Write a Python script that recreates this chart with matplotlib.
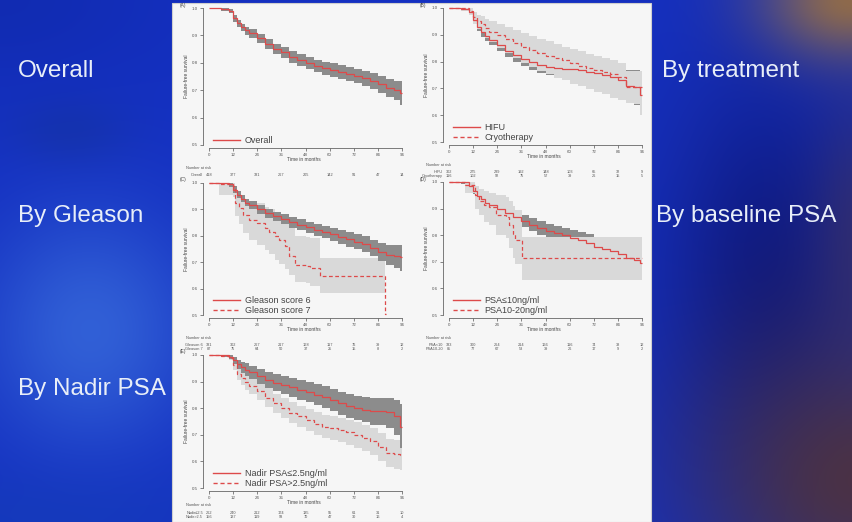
#!/usr/bin/env python3
"""
Slide with five Kaplan-Meier panels of failure-free survival
(overall, by treatment, by Gleason, by baseline PSA, by nadir PSA).
"""

import numpy as np
import matplotlib
matplotlib.use("Agg")
import matplotlib.pyplot as plt
from matplotlib.lines import Line2D
from matplotlib.patches import Rectangle

plt.rcParams["font.family"] = ["Liberation Sans", "DejaVu Sans"]

W, H, DPI = 852, 522, 100

# ---------------------------------------------------------------------------
# Data
# ---------------------------------------------------------------------------
# step start times (months), last entry closes the final step
grid = [0, 6, 10, 12, 14, 16, 18, 20, 24, 28, 32, 36, 40, 44, 48, 52, 56, 60,
        64, 68, 72, 76, 80, 84, 88, 92, 95, 96]
xticks = [0, 12, 24, 36, 48, 60, 72, 84, 96]
yticks = [0.5, 0.6, 0.7, 0.8, 0.9, 1.0]

# (A) overall
overall_s = [1.000, 0.995, 0.990, 0.962, 0.945, 0.930, 0.918, 0.908, 0.890, 0.870,
             0.852, 0.838, 0.822, 0.810, 0.798, 0.788, 0.781, 0.774, 0.766, 0.759,
             0.752, 0.743, 0.733, 0.722, 0.708, 0.700, 0.690]
overall_lo = [1.000, 0.990, 0.983, 0.950, 0.932, 0.916, 0.903, 0.892, 0.873, 0.852,
              0.833, 0.818, 0.801, 0.788, 0.776, 0.765, 0.757, 0.750, 0.741, 0.733,
              0.725, 0.715, 0.704, 0.691, 0.675, 0.664, 0.645]
overall_hi = [1.000, 0.999, 0.996, 0.973, 0.957, 0.943, 0.932, 0.923, 0.906, 0.887,
              0.870, 0.857, 0.842, 0.831, 0.820, 0.810, 0.804, 0.798, 0.791, 0.785,
              0.779, 0.771, 0.762, 0.752, 0.740, 0.734, 0.732]

# (B) by treatment
hifu_s = [1.000, 0.995, 0.985, 0.955, 0.930, 0.910, 0.895, 0.880, 0.860, 0.840,
          0.825, 0.810, 0.797, 0.787, 0.779, 0.776, 0.774, 0.771, 0.768, 0.762,
          0.756, 0.750, 0.744, 0.730, 0.708, 0.704, 0.675]
hifu_lo = [1.000, 0.988, 0.975, 0.940, 0.913, 0.892, 0.876, 0.860, 0.838, 0.816,
           0.800, 0.784, 0.770, 0.758, 0.749, 0.745, 0.742, 0.738, 0.733, 0.725,
           0.716, 0.708, 0.698, 0.680, 0.650, 0.640, 0.608]
hifu_hi = [1.000, 1.000, 0.994, 0.968, 0.946, 0.928, 0.914, 0.900, 0.882, 0.863,
           0.850, 0.836, 0.824, 0.815, 0.808, 0.806, 0.805, 0.803, 0.802, 0.800,
           0.796, 0.792, 0.790, 0.782, 0.770, 0.770, 0.745]
cryo_s = [1.000, 0.998, 0.990, 0.965, 0.950, 0.940, 0.925, 0.912, 0.900, 0.886,
          0.870, 0.855, 0.843, 0.832, 0.822, 0.812, 0.805, 0.795, 0.785, 0.776,
          0.769, 0.762, 0.752, 0.742, 0.706, 0.706, 0.706]
cryo_lo = [1.000, 0.990, 0.975, 0.940, 0.920, 0.905, 0.888, 0.872, 0.852, 0.832,
           0.812, 0.795, 0.780, 0.766, 0.752, 0.740, 0.730, 0.718, 0.708, 0.698,
           0.688, 0.678, 0.665, 0.655, 0.645, 0.642, 0.600]
cryo_hi = [1.000, 1.000, 1.000, 0.985, 0.975, 0.970, 0.960, 0.950, 0.940, 0.930,
           0.918, 0.905, 0.895, 0.886, 0.876, 0.866, 0.856, 0.846, 0.838, 0.830,
           0.822, 0.814, 0.806, 0.795, 0.765, 0.765, 0.765]

# (C) by Gleason score
gl6_s = [1.000, 0.998, 0.994, 0.975, 0.955, 0.940, 0.925, 0.915, 0.900, 0.886,
         0.873, 0.862, 0.851, 0.841, 0.832, 0.823, 0.814, 0.805, 0.795, 0.786,
         0.778, 0.769, 0.753, 0.740, 0.728, 0.722, 0.719]
gl6_lo = [1.000, 0.994, 0.986, 0.963, 0.942, 0.926, 0.911, 0.900, 0.884, 0.869,
          0.855, 0.843, 0.831, 0.820, 0.810, 0.800, 0.790, 0.780, 0.769, 0.759,
          0.750, 0.739, 0.722, 0.706, 0.690, 0.680, 0.668]
gl6_hi = [1.000, 1.000, 1.000, 0.987, 0.968, 0.954, 0.939, 0.930, 0.916, 0.903,
          0.891, 0.881, 0.871, 0.862, 0.854, 0.846, 0.838, 0.830, 0.821, 0.813,
          0.806, 0.799, 0.784, 0.774, 0.766, 0.764, 0.766]
gl7_t = [0, 5, 12, 13, 15, 17, 20, 24, 28, 30, 33, 35, 38, 40, 43, 48, 50, 55, 87.5, 88]
gl7_s = [1.000, 0.995, 0.990, 0.924, 0.905, 0.880, 0.861, 0.848, 0.830, 0.816,
         0.800, 0.785, 0.760, 0.722, 0.690, 0.684, 0.677, 0.646, 0.506]
gl7_lo = [1.000, 0.955, 0.945, 0.875, 0.845, 0.810, 0.785, 0.765, 0.745, 0.730,
          0.710, 0.695, 0.675, 0.650, 0.625, 0.620, 0.610, 0.582, 0.506]
gl7_hi = [1.000, 1.000, 1.000, 0.965, 0.955, 0.940, 0.930, 0.924, 0.910, 0.900,
          0.885, 0.875, 0.860, 0.830, 0.800, 0.797, 0.790, 0.715, 0.506]

# (D) by baseline PSA
psa10_s = [1.000, 0.998, 0.985, 0.965, 0.948, 0.935, 0.922, 0.912, 0.898, 0.882,
           0.868, 0.853, 0.840, 0.827, 0.816, 0.807, 0.799, 0.790, 0.782, 0.772,
           0.757, 0.749, 0.740, 0.728, 0.713, 0.705, 0.694]
psa10_lo = [1.000, 0.994, 0.976, 0.953, 0.934, 0.920, 0.905, 0.894, 0.878, 0.861,
            0.846, 0.830, 0.816, 0.802, 0.790, 0.780, 0.771, 0.761, 0.752, 0.740,
            0.722, 0.712, 0.700, 0.685, 0.665, 0.655, 0.644]
psa10_hi = [1.000, 1.000, 0.994, 0.977, 0.962, 0.950, 0.939, 0.930, 0.918, 0.903,
            0.890, 0.876, 0.864, 0.852, 0.842, 0.834, 0.827, 0.819, 0.812, 0.804,
            0.792, 0.786, 0.780, 0.771, 0.760, 0.755, 0.744]
psa20_t = [0, 8, 13, 15, 17.5, 20, 23.5, 28.5, 30, 31.8, 33, 36.5, 96]
psa20_s = [1.000, 0.990, 0.950, 0.930, 0.9125, 0.906, 0.875, 0.869, 0.8375, 0.806,
           0.781, 0.7125]
psa20_lo = [1.000, 0.960, 0.900, 0.875, 0.850, 0.840, 0.800, 0.790, 0.750, 0.715,
            0.690, 0.631]
psa20_hi = [1.000, 1.000, 0.985, 0.975, 0.965, 0.960, 0.950, 0.945, 0.930, 0.910,
            0.895, 0.795]

# (E) by nadir PSA
nad_lo_s = [1.000, 0.998, 0.994, 0.980, 0.965, 0.955, 0.945, 0.935, 0.920, 0.905,
            0.895, 0.886, 0.878, 0.868, 0.860, 0.851, 0.842, 0.830, 0.818, 0.808,
            0.800, 0.795, 0.788, 0.788, 0.786, 0.769, 0.731]
nad_lo_lo = [1.000, 0.993, 0.985, 0.965, 0.946, 0.933, 0.921, 0.910, 0.892, 0.875,
             0.863, 0.852, 0.843, 0.832, 0.822, 0.812, 0.802, 0.788, 0.775, 0.763,
             0.754, 0.747, 0.738, 0.735, 0.725, 0.700, 0.650]
nad_lo_hi = [1.000, 1.000, 1.000, 0.993, 0.982, 0.975, 0.968, 0.960, 0.948, 0.935,
             0.927, 0.920, 0.913, 0.904, 0.898, 0.890, 0.882, 0.872, 0.862, 0.853,
             0.846, 0.843, 0.838, 0.838, 0.840, 0.832, 0.815]
nad_hi_s = [1.000, 0.997, 0.990, 0.962, 0.930, 0.912, 0.898, 0.885, 0.865, 0.840,
            0.818, 0.800, 0.783, 0.770, 0.756, 0.742, 0.731, 0.724, 0.719, 0.710,
            0.700, 0.688, 0.675, 0.655, 0.631, 0.627, 0.625]
nad_hi_lo = [1.000, 0.992, 0.980, 0.945, 0.905, 0.886, 0.870, 0.855, 0.832, 0.805,
             0.782, 0.762, 0.744, 0.730, 0.714, 0.699, 0.687, 0.679, 0.673, 0.663,
             0.652, 0.639, 0.625, 0.603, 0.578, 0.572, 0.569]
nad_hi_hi = [1.000, 1.000, 0.998, 0.978, 0.952, 0.937, 0.925, 0.914, 0.897, 0.874,
             0.854, 0.837, 0.822, 0.810, 0.797, 0.785, 0.775, 0.769, 0.765, 0.757,
             0.748, 0.737, 0.725, 0.707, 0.684, 0.682, 0.681]

# number at risk at 0, 12, ..., 96 months (too blurred to read exactly)
risk_overall = [418, 377, 331, 267, 205, 142, 91, 47, 14]
risk_hifu = [302, 275, 239, 192, 148, 103, 65, 32, 9]
risk_cryo = [116, 102, 92, 75, 57, 39, 26, 15, 5]
risk_gl6 = [331, 302, 267, 217, 168, 117, 76, 39, 12]
risk_gl7 = [87, 75, 64, 50, 37, 25, 15, 8, 2]
risk_psa10 = [333, 300, 264, 214, 166, 116, 74, 38, 12]
risk_psa20 = [85, 77, 67, 53, 39, 26, 17, 9, 2]
risk_nad_lo = [262, 240, 212, 174, 135, 95, 61, 31, 10]
risk_nad_hi = [156, 137, 119, 93, 70, 47, 30, 16, 4]

slide_left = ["Overall", "By Gleason", "By Nadir PSA"]
slide_right = ["By treatment", "By baseline PSA"]

RED = "#dd4a4a"
DARK = "#8c8c8c"
LIGHT = "#d9d9d9"


# ---------------------------------------------------------------------------
def slide_background():
    yy, xx = np.mgrid[0:H, 0:W].astype(float)
    img = np.zeros((H, W, 3))
    img[:] = (0.08, 0.19, 0.76)

    def blob(cx, cy, sx, sy, color, strength):
        w = strength * np.exp(-(((xx - cx) / sx) ** 2 + ((yy - cy) / sy) ** 2))
        img[:] = img * (1 - w[..., None]) + np.array(color) * w[..., None]

    blob(90, 330, 110, 120, (0.22, 0.42, 0.86), 0.8)
    blob(70, 130, 60, 35, (0.08, 0.2, 0.62), 0.5)
    blob(0, 0, 170, 90, (0.06, 0.16, 0.66), 0.6)
    blob(30, 520, 200, 50, (0.08, 0.24, 0.72), 0.6)
    blob(690, 150, 50, 90, (0.1, 0.2, 0.75), 0.5)
    blob(770, 280, 110, 210, (0.05, 0.08, 0.45), 0.8)
    blob(852, 0, 90, 60, (0.62, 0.45, 0.25), 0.9)
    blob(860, 480, 170, 150, (0.33, 0.2, 0.2), 0.85)
    blob(860, 230, 50, 140, (0.28, 0.2, 0.3), 0.5)
    return np.clip(img, 0, 1)


def km_panel(fig, box, tag, curves, risk_rows, risk_dy=(20, 27, 4)):
    """box = (left, top, right, bottom) in pixels; risk_dy in pixels below axis."""
    left, top, right, bottom = box
    ax = fig.add_axes([left / W, 1 - bottom / H, (right - left) / W, (bottom - top) / H])
    ax.set_facecolor("none")

    for c in curves:
        ax.stairs(c["hi"], c["t"], baseline=c["lo"], fill=True,
                  color=c["band"], lw=0, zorder=c["z"])
    handles = []
    for c in curves:
        ax.stairs(c["s"], c["t"], baseline=None, color=RED, lw=0.9,
                  linestyle=c["ls"], zorder=5)
        handles.append(Line2D([], [], color=RED, lw=1.0, linestyle=c["ls"]))

    ax.set_xlim(-3, 97.5)
    ax.set_ylim(0.489, 1.011)
    ax.set_xticks(xticks)
    ax.set_yticks(yticks)
    ax.set_yticklabels([f"{v:.1f}" for v in yticks])
    ax.tick_params(labelsize=3.2, length=2, width=0.5, pad=1.5, colors="#555555")
    for side in ["top", "right"]:
        ax.spines[side].set_visible(False)
    ax.spines["left"].set_bounds(0.5, 1.0)
    ax.spines["bottom"].set_bounds(0, 96)
    for side in ["left", "bottom"]:
        ax.spines[side].set_linewidth(0.6)
        ax.spines[side].set_color("#666666")
    ax.set_xlabel("Time in months", fontsize=3.5, labelpad=0, color="#444444")
    ax.set_ylabel("Failure-free survival", fontsize=3.5, labelpad=2, color="#444444")

    ax.legend(handles, [c["label"] for c in curves], loc="lower left",
              bbox_to_anchor=(0.05, 0.02), frameon=False, fontsize=6.5,
              handlelength=3.0, handletextpad=0.5, labelspacing=0.1,
              borderpad=0, borderaxespad=0, labelcolor="#444444")

    ax.text(-0.1, 1.0, tag, transform=ax.transAxes, fontsize=3.5,
            ha="center", va="center", color="#444444")

    # number-at-risk table below the axis
    head, first, step = risk_dy
    xform = ax.get_xaxis_transform()
    ax.annotate("Number at risk", xy=(-3, 0), xycoords=xform,
                xytext=(-12, -head * 0.72), textcoords="offset points",
                fontsize=2.8, ha="left", va="center", color="#555555",
                annotation_clip=False)
    for i, (name, counts) in enumerate(risk_rows):
        dy = -(first + step * i) * 0.72
        ax.annotate(name, xy=(-3, 0), xycoords=xform, xytext=(0, dy),
                    textcoords="offset points", fontsize=2.8, ha="right",
                    va="center", color="#555555", annotation_clip=False)
        for t, n in zip(xticks, counts):
            ax.annotate(str(n), xy=(t, 0), xycoords=xform, xytext=(0, dy),
                        textcoords="offset points", fontsize=2.8, ha="center",
                        va="center", color="#555555", annotation_clip=False)
    return ax


def main():
    fig = plt.figure(figsize=(W / DPI, H / DPI), dpi=DPI)

    bg = fig.add_axes([0, 0, 1, 1])
    bg.imshow(slide_background(), aspect="auto", interpolation="bilinear",
              extent=(0, 1, 0, 1))
    bg.add_patch(Rectangle((172 / W, 0), (651 - 172) / W, 1 - 3 / H,
                           transform=bg.transAxes, facecolor="#f6f6f6",
                           edgecolor="#cfcfcf", lw=0.8))
    bg.set_xlim(0, 1)
    bg.set_ylim(0, 1)
    bg.set_axis_off()

    for label, y in zip(slide_left, [71, 216, 389]):
        fig.text(18 / W, 1 - y / H, label, fontsize=17.5, color="#e8eef8",
                 ha="left", va="center")
    for label, (x, y) in zip(slide_right, [(662, 71), (656, 216)]):
        fig.text(x / W, 1 - y / H, label, fontsize=17.5, color="#e8eef8",
                 ha="left", va="center")

    km_panel(fig, (203, 5, 405, 148), "(A)",
             [dict(t=grid, s=overall_s, lo=overall_lo, hi=overall_hi, band=DARK,
                   ls="-", z=2, label="Overall")],
             [("Overall", risk_overall)])

    km_panel(fig, (443, 5, 645, 145), "(B)",
             [dict(t=grid, s=hifu_s, lo=hifu_lo, hi=hifu_hi, band=DARK,
                   ls="-", z=2, label="HIFU"),
              dict(t=grid, s=cryo_s, lo=cryo_lo, hi=cryo_hi, band=LIGHT,
                   ls=(0, (3, 2)), z=3, label="Cryotherapy")],
             [("HIFU", risk_hifu), ("Cryotherapy", risk_cryo)])

    km_panel(fig, (203, 180, 405, 318), "(C)",
             [dict(t=grid, s=gl6_s, lo=gl6_lo, hi=gl6_hi, band=DARK,
                   ls="-", z=3, label="Gleason score 6"),
              dict(t=gl7_t, s=gl7_s, lo=gl7_lo, hi=gl7_hi, band=LIGHT,
                   ls=(0, (3, 2)), z=2, label="Gleason score 7")],
             [("Gleason 6", risk_gl6), ("Gleason 7", risk_gl7)])

    km_panel(fig, (443, 179, 645, 318), "(D)",
             [dict(t=grid, s=psa10_s, lo=psa10_lo, hi=psa10_hi, band=DARK,
                   ls="-", z=2, label="PSA≤10ng/ml"),
              dict(t=psa20_t, s=psa20_s, lo=psa20_lo, hi=psa20_hi, band=LIGHT,
                   ls=(0, (3, 2)), z=3, label="PSA10-20ng/ml")],
             [("PSA<10", risk_psa10), ("PSA10-20", risk_psa20)])

    km_panel(fig, (203, 352, 405, 491), "(E)",
             [dict(t=grid, s=nad_lo_s, lo=nad_lo_lo, hi=nad_lo_hi, band=DARK,
                   ls="-", z=3, label="Nadir PSA≤2.5ng/ml"),
              dict(t=grid, s=nad_hi_s, lo=nad_hi_lo, hi=nad_hi_hi, band=LIGHT,
                   ls=(0, (3, 2)), z=2, label="Nadir PSA>2.5ng/ml")],
             [("Nadir≤2.5", risk_nad_lo), ("Nadir>2.5", risk_nad_hi)],
             risk_dy=(14, 22, 4))

    fig.savefig("out.png", dpi=DPI)
    plt.close(fig)


if __name__ == "__main__":
    main()
